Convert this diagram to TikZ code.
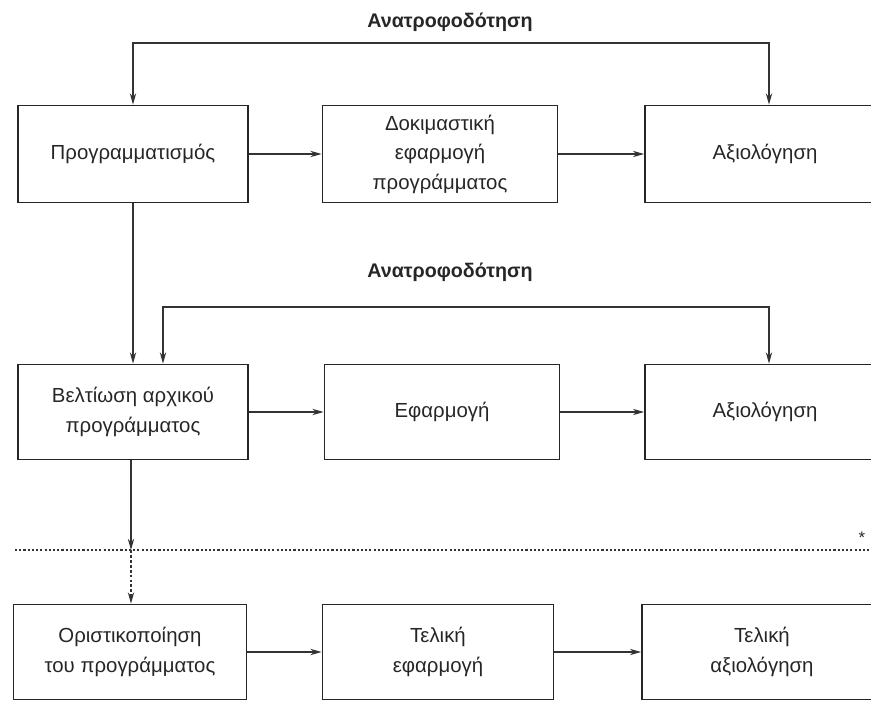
\documentclass[tikz,border=0pt]{standalone}
\usepackage{fontspec}
\setmainfont{Liberation Sans}
\usetikzlibrary{arrows.meta,calc}

\begin{document}
\begin{tikzpicture}[x=0.025cm,y=-0.025cm,
    box/.style={draw=black!85,line width=1.3pt,minimum width=230*0.025cm,minimum height=97*0.025cm,
        align=center,inner sep=2pt,font=\fontsize{14.5}{21}\selectfont,text=black!85},
    conn/.style={draw=black!80,line width=0.8pt,-{Stealth[length=8pt,width=4.5pt]}},
    fbk/.style={font=\fontsize{14}{17}\selectfont\bfseries,text=black!85}]
    \useasboundingbox (0,0) rectangle (871,703);
    \clip (0,0) rectangle (871,703);

    % first row
    \node[box] (B00) at (133,154) {Προγραμματισμός};
    \node[box,minimum width=235*0.025cm] (B01) at (440,154) {Δοκιμαστική\\εφαρμογή\\προγράμματος};
    \node[box,minimum width=240*0.025cm] (B02) at (765,154) {Αξιολόγηση};
    % second row
    \node[box,minimum height=95*0.025cm] (B10) at (133,412) {Βελτίωση αρχικού\\προγράμματος};
    \node[box,minimum width=235*0.025cm,minimum height=95*0.025cm] (B11) at (442,412) {Εφαρμογή};
    \node[box,minimum width=240*0.025cm,minimum height=95*0.025cm] (B12) at (765,412) {Αξιολόγηση};
    % third row
    \node[box,minimum width=233*0.025cm,minimum height=95*0.025cm] (B20) at (130,652) {Οριστικοποίηση\\του προγράμματος};
    \node[box,minimum width=231*0.025cm,minimum height=95*0.025cm] (B21) at (438,652) {Τελική\\εφαρμογή};
    \node[box,minimum width=240*0.025cm,minimum height=95*0.025cm] (B22) at (762,652) {Τελική\\αξιολόγηση};

    % feedback labels
    \node[fbk] (F0) at (450,22) {Ανατροφοδότηση};
    \node[fbk] (F1) at (450,272) {Ανατροφοδότηση};
    \coordinate (fb0) at (450,43);
    \coordinate (fb1) at (450,307);
    \coordinate (cut) at (131,550);

    \draw[conn] (B00) -- (B01);
    \draw[conn] (B01) -- (B02);
    \draw[conn] (B10) -- (B11);
    \draw[conn] (B11) -- (B12);
    \draw[conn] (B20) -- (B21);
    \draw[conn] (B21) -- (B22);

    \draw[conn] (B00) -- (B10);
    \draw[conn,{Stealth[length=8pt,width=4.5pt]}-{Stealth[length=8pt,width=4.5pt]}] (B00.north) |- (fb0) -| ($(B02.north)+(4,0)$);
    \draw[conn,{Stealth[length=8pt,width=4.5pt]}-{Stealth[length=8pt,width=4.5pt]}] ($(B10.north)+(30,0)$) |- (fb1) -| ($(B12.north)+(4,0)$);

    % dotted divider
    \draw[black!80,line width=0.9pt,dash pattern=on 1.5pt off 1.5pt] (15,550) -- (871,550);
    \node[text=black!85,font=\fontsize{12}{12}\selectfont] (star) at (862,538) {*};
    \draw[conn] (B10.south -| cut) -- (cut);
    \draw[conn,dash pattern=on 2pt off 1.5pt] (cut) -- (B20.north -| cut);
\end{tikzpicture}
\end{document}
